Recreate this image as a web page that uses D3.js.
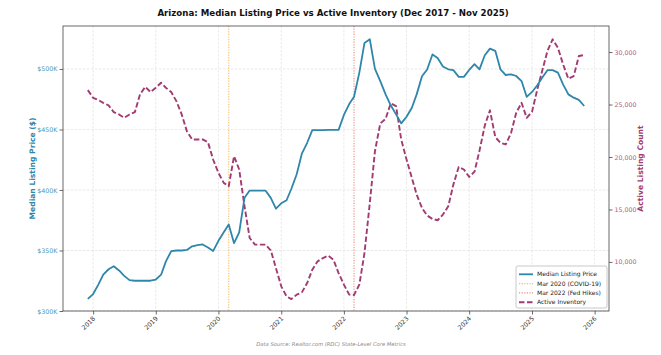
<!DOCTYPE html>
<html><head><meta charset="utf-8">
<script src="https://cdn.jsdelivr.net/npm/d3@7/dist/d3.min.js"></script>
<style>body{margin:0;background:#fff}svg{display:block;font-family:"DejaVu Sans",sans-serif}</style>
</head><body><svg id="c" width="661" height="355"></svg>
<script>
const startMonth = "2017-12";
const months = d3.range(96).map(i => { const d = new Date(2017, 11 + i, 1); return d; });
const priceK = [310,314,322,330,334.5,337,333.5,329,325.5,325,325,325,
  325,326,330,341,349.5,350,350,350.5,353.5,354.5,355,352.5,
  349.5,358,365,371.5,356,365,393.5,399.5,399.5,399.5,399.5,393.5,
  384.5,389,391.5,401,413,430,439,449.5,449.5,449.5,449.7,449.7,
  449.7,462,471,477,497,521.5,524.5,500,490,479,470,462.5,
  455,460.5,468,479,494,499.5,512,509,502,499.7,499,493.5,
  493.5,499.2,504,499.7,511.3,516.8,515,499.7,495,495.6,494.2,490,
  477,481,486.5,492.8,499,499,497,487.3,479,476.3,474.4,469.4];
const inventory = [26374,25640,25420,25162,24914,24275,24055,23731,24055,24275,25964,26689,
  26183,26594,27071,26594,26183,25324,24055,22462,21670,21670,21670,21412,
  19761,18483,17529,17214,20076,18807,15305,12281,11651,11651,11651,11107,
  9418,7672,6717,6460,6880,7100,7987,9265,10057,10372,10601,10219,
  8941,7834,6880,6850,7834,10849,15620,20553,23196,23636,25105,24847,
  21670,19761,18006,16422,15143,14418,14093,13970,14513,15305,17376,19055,
  18807,18101,18600,20600,23000,24450,21900,21346,21193,22300,24208,25162,
  23731,24300,26441,28187,30095,31212,30410,28826,27452,27710,29618,29714];
const priceTicks = [300,350,400,450,500];
const invTicks = [10000,15000,20000,25000,30000];
const yearTicks = [2018,2019,2020,2021,2022,2023,2024,2025,2026];
const events = [{date:new Date(2020,2,1), label:"Mar 2020 (COVID-19)", color:"#F18F01"},
                {date:new Date(2022,2,1), label:"Mar 2022 (Fed Hikes)", color:"#E0452A"}];
const titleText = "Arizona: Median Listing Price vs Active Inventory (Dec 2017 - Nov 2025)";
const sourceText = "Data Source: Realtor.com (RDC) State-Level Core Metrics";

const cPrice = "#2E86AB", cInv = "#A23B72";
const L = 63, R = 609, T = 26, B = 311;
const svg = d3.select("#c");
const t0 = months[0].getTime(), t1 = months[95].getTime(), pad = (t1 - t0) * 0.05;
const x = d3.scaleTime().domain([new Date(t0 - pad), new Date(t1 + pad)]).range([L, R]);
const yP = d3.scaleLinear().domain([300, 535.5]).range([B, T]);
const yI = d3.scaleLinear().domain([5324, 32481]).range([B, T]);

// grid
const g = svg.append("g");
g.selectAll(".vg").data(yearTicks).join("line")
  .attr("x1", d => x(new Date(d,0,1))).attr("x2", d => x(new Date(d,0,1)))
  .attr("y1", T).attr("y2", B).attr("stroke", "#ccc").attr("stroke-width", 0.6).attr("stroke-dasharray", "2.5,1.5").attr("opacity", 0.7);
g.selectAll(".hg").data(priceTicks).join("line")
  .attr("x1", L).attr("x2", R).attr("y1", d => yP(d)).attr("y2", d => yP(d))
  .attr("stroke", "#ccc").attr("stroke-width", 0.6).attr("stroke-dasharray", "2.5,1.5").attr("opacity", 0.7);

// event lines
events.forEach(e => {
  svg.append("line").attr("x1", x(e.date)).attr("x2", x(e.date)).attr("y1", T).attr("y2", B)
    .attr("stroke", e.color).attr("stroke-width", 1.1).attr("stroke-dasharray", "1.2,1.4").attr("opacity", 0.6);
});

// lines
const linePrice = d3.line().x((d,i) => x(months[i])).y(d => yP(d));
const lineInv = d3.line().x((d,i) => x(months[i])).y(d => yI(d));
svg.append("path").attr("d", lineInv(inventory)).attr("fill","none").attr("stroke", cInv)
  .attr("stroke-width", 1.9).attr("stroke-dasharray", "5.5,2.5").attr("stroke-linejoin","round");
svg.append("path").attr("d", linePrice(priceK)).attr("fill","none").attr("stroke", cPrice)
  .attr("stroke-width", 1.8).attr("stroke-linejoin","round");

// frame
svg.append("rect").attr("x", L).attr("y", T).attr("width", R-L).attr("height", B-T)
  .attr("fill","none").attr("stroke","#444").attr("stroke-width",0.8);

// axes
const axL = svg.append("g").attr("transform", `translate(${L},0)`)
  .call(d3.axisLeft(yP).tickValues(priceTicks).tickFormat(d => "$" + d + "K").tickSize(3.5).tickPadding(2));
axL.select(".domain").remove();
axL.selectAll("line").attr("stroke","#444").attr("stroke-width",0.8);
axL.selectAll("text").attr("fill", cPrice).attr("font-size", 6.3).attr("font-family","DejaVu Sans").attr("opacity",0.85);

const axR = svg.append("g").attr("transform", `translate(${R},0)`)
  .call(d3.axisRight(yI).tickValues(invTicks).tickFormat(d3.format(",")).tickSize(3.5).tickPadding(2));
axR.select(".domain").remove();
axR.selectAll("line").attr("stroke","#444").attr("stroke-width",0.8);
axR.selectAll("text").attr("fill", cInv).attr("font-size", 6.3).attr("font-family","DejaVu Sans").attr("opacity",0.85);

const axB = svg.append("g").attr("transform", `translate(0,${B})`)
  .call(d3.axisBottom(x).tickValues(yearTicks.map(y => new Date(y,0,1))).tickFormat(d3.timeFormat("%Y")).tickSize(3.5).tickPadding(2));
axB.select(".domain").remove();
axB.selectAll("line").attr("stroke","#444").attr("stroke-width",0.8);
axB.selectAll("text").attr("fill","#333").attr("font-size", 6.3).attr("font-family","DejaVu Sans")
  .attr("text-anchor","end").attr("dy", null).attr("y", 0)
  .attr("transform","translate(2,8) rotate(-45)");

// axis titles
svg.append("text").attr("transform", `translate(35,${(T+B)/2}) rotate(-90)`).attr("text-anchor","middle")
  .attr("font-size", 7.6).attr("font-weight","bold").attr("fill", cPrice).text("Median Listing Price ($)");
svg.append("text").attr("transform", `translate(643,${(T+B)/2}) rotate(-90)`).attr("text-anchor","middle")
  .attr("font-size", 7.6).attr("font-weight","bold").attr("fill", cInv).text("Active Listing Count");

// title
const tt = svg.append("text").attr("x", 333).attr("y", 15.5).attr("text-anchor","middle")
  .attr("font-weight","bold").attr("font-size", 10).attr("fill","#111").text(titleText);
const tw = tt.node().getComputedTextLength();
tt.attr("font-size", 10 * 352 / tw);

// footnote
const ft = svg.append("text").attr("x", 331).attr("y", 346).attr("text-anchor","middle")
  .attr("font-style","italic").attr("font-size", 6).attr("fill","#888").text(sourceText);
const fw = ft.node().getComputedTextLength();
ft.attr("font-size", 6 * 150 / fw);

// legend
const lg = svg.append("g").attr("transform","translate(516,266)");
lg.append("rect").attr("width", 91).attr("height", 42).attr("rx", 2).attr("fill","#fff").attr("fill-opacity",0.85)
  .attr("stroke","#bbb").attr("stroke-width",0.8);
const items = [
  {label:"Median Listing Price", color:cPrice, dash:null, w:1.8, op:1},
  {label:events[0].label, color:events[0].color, dash:"1.2,1.4", w:1.1, op:0.6},
  {label:events[1].label, color:events[1].color, dash:"1.2,1.4", w:1.1, op:0.6},
  {label:"Active Inventory", color:cInv, dash:"5.5,2.5", w:1.9, op:1}
];
items.forEach((it, i) => {
  const yy = 8.3 + i * 9.3;
  lg.append("line").attr("x1", 3).attr("x2", 17).attr("y1", yy).attr("y2", yy)
    .attr("stroke", it.color).attr("stroke-width", it.w).attr("stroke-dasharray", it.dash).attr("opacity", it.op);
  lg.append("text").attr("x", 21).attr("y", yy + 2.1).attr("font-size", 6).attr("fill","#222").text(it.label);
});
</script></body></html>
